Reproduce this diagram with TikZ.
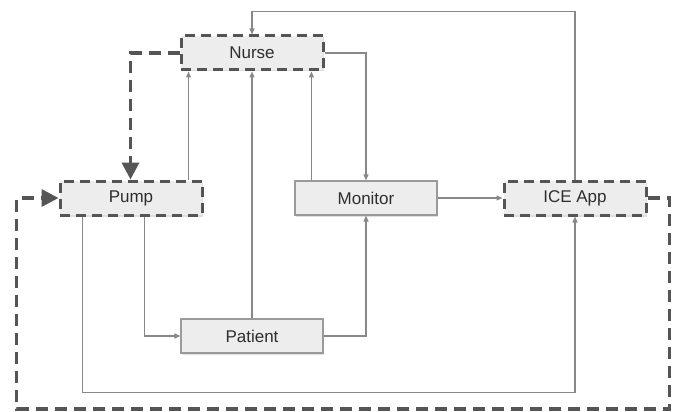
\documentclass[tikz,border=0pt]{standalone}
\usepackage{fontspec}
\setmainfont{Liberation Sans}
\usetikzlibrary{arrows.meta,calc,shadows}
\definecolor{boxfill}{HTML}{EDEDED}
\definecolor{boxline}{HTML}{9A9A9A}
\definecolor{dashline}{HTML}{555555}
\definecolor{wire}{HTML}{888888}
\definecolor{txt}{HTML}{2E2E2E}
\tikzset{
  blk/.style={draw=boxline, line width=1.2pt, fill=boxfill, minimum width=142pt, minimum height=34pt,
    inner sep=0pt, text=txt, font=\fontsize{17}{20}\selectfont,
    drop shadow={opacity=0.25, shadow xshift=1pt, shadow yshift=-1.5pt}},
  dblk/.style={blk, draw=dashline, line width=3pt, dash pattern=on 10pt off 6pt},
  wirearrow/.style={draw=wire, line width=1.1pt, -{Triangle[length=6pt,width=5pt]}},
  bigdash/.style={draw=dashline, line width=3.5pt, dash pattern=on 12pt off 7pt,
    -{Triangle[length=17pt,width=17pt]}},
}
\begin{document}
\begin{tikzpicture}[x=1pt,y=-1pt]
\useasboundingbox (0,0) rectangle (673,412);
% nodes
\node[dblk] (nurse) at (252,53) {Nurse};
\node[dblk] (pump) at (131,198) {Pump};
\node[blk] (monitor) at (366,198) {Monitor};
\node[dblk] (ice) at (575,198) {ICE App};
\node[blk] (patient) at (252,336) {Patient};
% helper points on edges
\coordinate (m1) at ($(monitor.north west)+(17,0)$);
\coordinate (p1) at ($(pump.north west)+(130,0)$);
\coordinate (p2) at ($(pump.south west)+(86,0)$);
\coordinate (p3) at ($(pump.south west)+(24,0)$);
\coordinate (p4) at ($(pump.north west)+(72,0)$);
% thin connectors
\draw[wirearrow] (ice.north) |- ($(nurse.north)+(0,-23)$) -- (nurse.north);
\draw[wirearrow] (nurse.east) -| (monitor.north);
\draw[wirearrow] (m1) -- (m1 |- nurse.south);
\draw[wirearrow] (p1) -- (p1 |- nurse.south);
\draw[wirearrow] (patient.north) -- (nurse.south);
\draw[wirearrow] (p2) |- (patient.west);
\draw[wirearrow] (p3) |- ($(patient.south)+(0,39)$) -| (ice.south);
\draw[wirearrow] (patient.east) -| (monitor.south);
\draw[wirearrow] (monitor.east) -- (ice.west);
% thick dashed connectors
\draw[bigdash] (nurse.west) -| (p4);
\draw[bigdash] (ice.east) -- ++(22,0) -- ++(0,211) -| ($(pump.west)+(-42,0)$) -- (pump.west);
\end{tikzpicture}
\end{document}
